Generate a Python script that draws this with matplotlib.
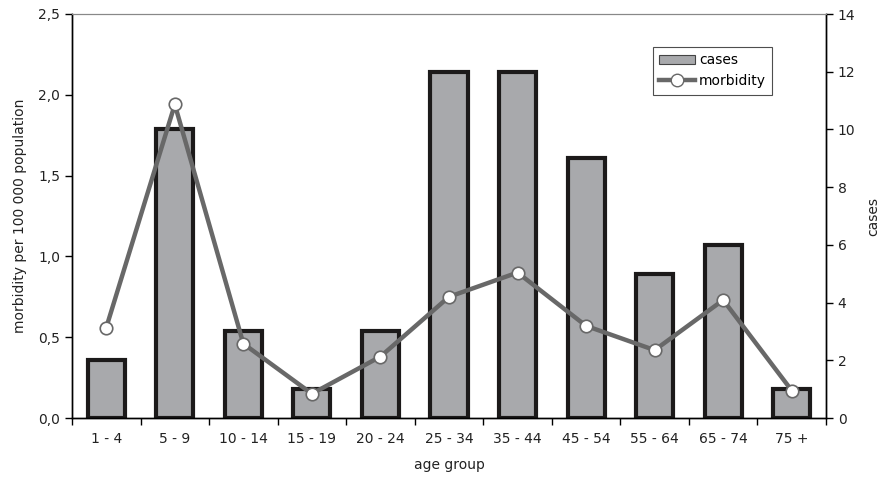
import matplotlib
matplotlib.use("Agg")
import matplotlib.pyplot as plt
from matplotlib.ticker import FuncFormatter, FixedLocator
from matplotlib.patches import Patch
from matplotlib.lines import Line2D

age_groups = ["1 - 4", "5 - 9", "10 - 14", "15 - 19", "20 - 24", "25 - 34",
              "35 - 44", "45 - 54", "55 - 64", "65 - 74", "75 +"]
cases = [2, 10, 3, 1, 3, 12, 12, 9, 5, 6, 1]
morbidity = [0.56, 1.94, 0.46, 0.15, 0.38, 0.75, 0.90, 0.57, 0.42, 0.73, 0.17]

plt.rcParams['font.family'] = ['DejaVu Sans']

fig = plt.figure(figsize=(8.84, 4.8), dpi=100)
ax1 = fig.add_axes([72/884, 1-418/480, 754/884, 404/480])
ax2 = ax1.twinx()

x = list(range(len(age_groups)))
ax2.bar(x, cases, width=0.54, color="#a8a9ac", edgecolor="#1c1a1a", linewidth=3)
ax2.set_ylim(0, 14)
ax2.set_yticks(range(0, 15, 2))
ax2.set_ylabel("cases", fontsize=10, color="#222222", labelpad=8)

ax1.set_zorder(ax2.get_zorder() + 1)
ax1.patch.set_visible(False)
ax1.plot(x, morbidity, color="#686868", linewidth=3.2, marker="o", markersize=9,
         markerfacecolor="white", markeredgecolor="#686868", markeredgewidth=1.2,
         zorder=5)
ax1.set_ylim(0, 2.5)
ax1.set_yticks([0, 0.5, 1.0, 1.5, 2.0, 2.5])
ax1.yaxis.set_major_formatter(FuncFormatter(lambda v, p: f"{v:.1f}".replace(".", ",")))
ax1.set_ylabel("morbidity per 100 000 population", fontsize=10, color="#222222", labelpad=8)
ax1.set_xlim(-0.5, len(age_groups) - 0.5)

ax1.xaxis.set_major_locator(FixedLocator([i - 0.5 for i in range(len(age_groups) + 1)]))
ax1.xaxis.set_minor_locator(FixedLocator(x))
ax1.set_xticklabels([], minor=False)
ax1.set_xticklabels(age_groups, minor=True)
ax1.tick_params(axis="x", which="minor", length=0, pad=10, labelsize=10, labelcolor="#222222")
ax1.tick_params(axis="x", which="major", length=5, direction="out", width=1)
ax1.set_xlabel("age group", fontsize=10, color="#222222", labelpad=9)

for a in (ax1, ax2):
    a.tick_params(axis="y", length=5, width=1, labelsize=10, labelcolor="#222222")
    a.spines["top"].set_color("#888888")
    a.spines["top"].set_linewidth(0.8)
    a.spines["left"].set_linewidth(1)
    a.spines["right"].set_linewidth(1)
    a.spines["bottom"].set_linewidth(1)

handles = [Patch(facecolor="#a8a9ac", edgecolor="#444444", linewidth=0.8),
           Line2D([0], [0], color="#686868", linewidth=3.2, marker="o", markersize=9,
                  markerfacecolor="white", markeredgecolor="#686868")]
leg = ax1.legend(handles, ["cases", "morbidity"], loc="upper left",
                 bbox_to_anchor=(0.77, 0.918), frameon=True, fancybox=False,
                 edgecolor="#222222", fontsize=10, handlelength=2.6,
                 borderpad=0.45, labelspacing=0.5, handletextpad=0.3, borderaxespad=0)
leg.get_frame().set_linewidth(0.8)

fig.savefig("out.png", dpi=100)
